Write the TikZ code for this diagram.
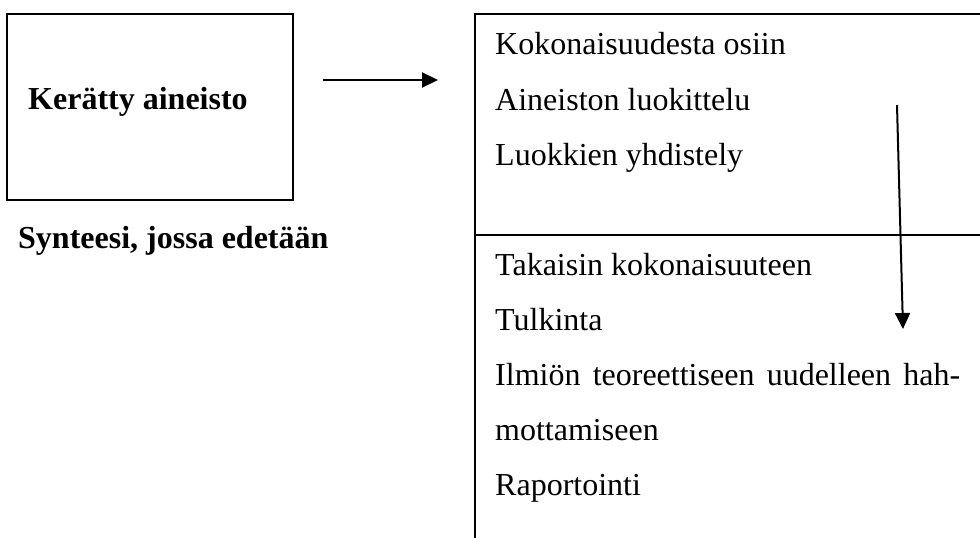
\documentclass[tikz,border=0pt]{standalone}
\usepackage{fontspec}
\setmainfont{Liberation Serif}
\usetikzlibrary{arrows.meta}
\begin{document}
\begin{tikzpicture}[x=1pt,y=-1pt,
  txt/.style={anchor=base west,inner sep=0pt,font=\fontsize{32}{38}\selectfont},
  btxt/.style={txt,font=\fontsize{32}{38}\selectfont\bfseries},
  frame/.style={draw,line width=1.6pt},
  arr/.style={line width=2pt,-{Triangle[length=16pt,width=15pt]}}]
\useasboundingbox (0,0) rectangle (980,538);
% left box
\node[frame,rectangle,minimum width=286pt,minimum height=186pt,inner sep=0pt] (kbox) at (150,107) {};
\node[btxt] (ktext) at (28,109) {Kerätty aineisto};
\node[btxt] (synt) at (18,248) {Synteesi, jossa edetään};
% horizontal arrow
\coordinate (h1) at (323,80);
\coordinate (h2) at (438,80);
\draw[arr] (h1) -- (h2);
% right open box
\coordinate (rtr) at (980,14);
\coordinate (rtl) at (475,14);
\coordinate (rbl) at (475,538);
\coordinate (rdl) at (475,235);
\coordinate (rdr) at (980,235);
\draw[frame] (rtr) -- (rtl) -- (rbl);
\draw[frame] (rdl) -- (rdr);
% texts
\node[txt] (t1) at (495,54) {Kokonaisuudesta osiin};
\node[txt] (t2) at (495,110) {Aineiston luokittelu};
\node[txt] (t3) at (495,165) {Luokkien yhdistely};
\node[txt] (t4) at (495,275) {Takaisin kokonaisuuteen};
\node[txt] (t5) at (495,330) {Tulkinta};
\node[txt] (t6) at (495,385) {\makebox[465pt][s]{Ilmiön teoreettiseen uudelleen hah-}};
\node[txt] (t7) at (495,440) {mottamiseen};
\node[txt] (t8) at (495,495) {Raportointi};
% vertical arrow
\coordinate (v1) at (897,105);
\coordinate (v2) at (903,329);
\draw[arr] (v1) -- (v2);
\end{tikzpicture}
\end{document}
